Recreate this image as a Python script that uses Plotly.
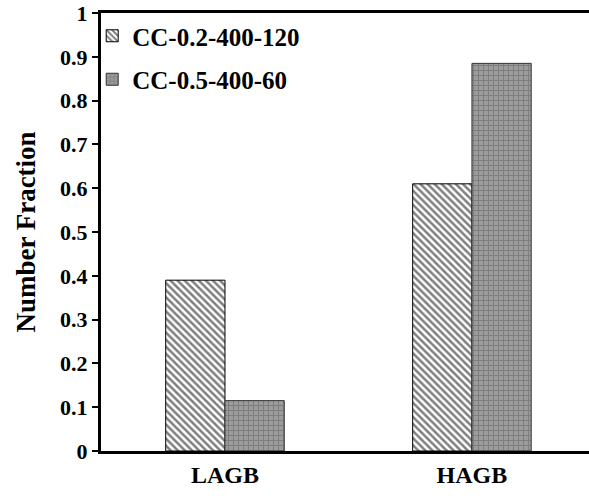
import plotly.graph_objects as go

categories = ["LAGB", "HAGB"]
series_names = ["CC-0.2-400-120", "CC-0.5-400-60"]
values_a = [0.39, 0.61]
values_b = [0.115, 0.885]
y_ticks = [0, 0.1, 0.2, 0.3, 0.4, 0.5, 0.6, 0.7, 0.8, 0.9, 1]
y_tick_labels = ["0", "0.1", "0.2", "0.3", "0.4", "0.5", "0.6", "0.7", "0.8", "0.9", "1"]

font_family = "Liberation Serif, Times New Roman, serif"

fig = go.Figure()
fig.add_trace(go.Bar(
    x=categories, y=values_a, name=series_names[0], legendgroup="a",
    marker=dict(color="white", line=dict(color="black", width=1),
                pattern=dict(shape="\\", fgcolor="black", bgcolor="white",
                             size=5, solidity=0.5)),
))
fig.add_trace(go.Bar(
    x=categories, y=values_b, name=series_names[1], legendgroup="b",
    marker=dict(color="#8c8c8c", line=dict(color="#333333", width=1),
                pattern=dict(shape="+", fgcolor="#5e5e5e", bgcolor="#9c9c9c",
                             size=5, solidity=0.35)),
))

fig.update_layout(
    width=589, height=499,
    margin=dict(l=101, r=0, t=13, b=48),
    paper_bgcolor="white", plot_bgcolor="white",
    barmode="group", bargap=0.52, bargroupgap=0,
    font=dict(family=font_family, color="black", size=18),
    showlegend=True,
    legend=dict(x=-0.018, y=1.0, xanchor="left", yanchor="top",
                font=dict(family=font_family, size=25, color="black", weight="bold"),
                bgcolor="rgba(0,0,0,0)", tracegroupgap=8, traceorder="grouped",
                itemwidth=30),
    xaxis=dict(range=[-0.502, 1.474], showline=True, linecolor="black", linewidth=3,
               mirror=True, ticks="", showgrid=False, zeroline=False,
               tickfont=dict(family=font_family, size=24, weight="bold")),
    yaxis=dict(range=[0, 1], tickvals=y_ticks, ticktext=y_tick_labels,
               showline=True, linecolor="black", linewidth=3, ticks="outside",
               ticklen=6, tickwidth=1.5, tickcolor="black", showgrid=False,
               zeroline=False,
               tickfont=dict(family=font_family, size=22, weight="bold"),
               title=dict(text="Number Fraction", standoff=17,
                          font=dict(family=font_family, size=27, weight="bold"))),
)

fig.write_html("out.html", config={"displayModeBar": False},
               post_script="document.body.style.margin='0';document.body.style.overflow='hidden';")
